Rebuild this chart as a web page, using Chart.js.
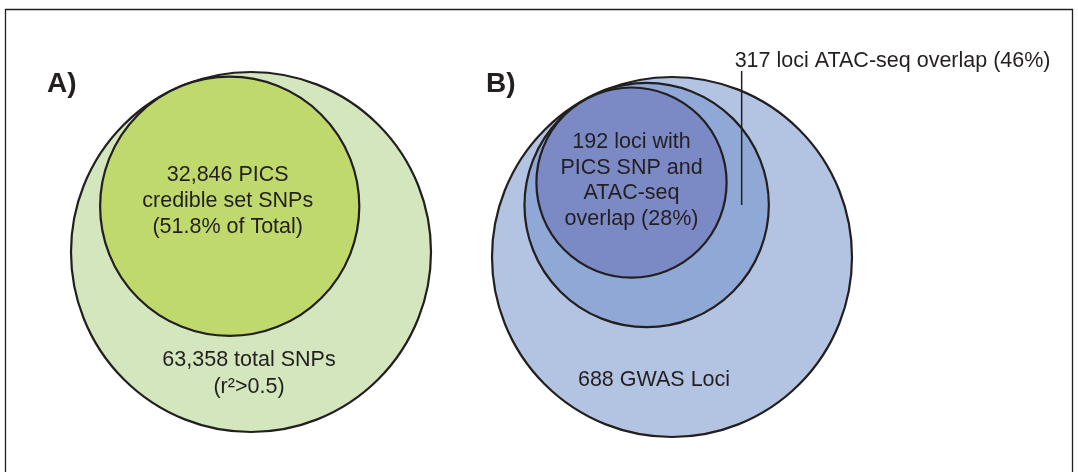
<!DOCTYPE html>
<html>
<head>
<meta charset="utf-8">
<title>GWAS fine-mapping overlap</title>
<script src="https://cdn.jsdelivr.net/npm/chart.js@4/dist/chart.umd.min.js"></script>
<style>
  html, body { margin: 0; padding: 0; background: #ffffff; }
  #wrap { width: 1078px; height: 472px; position: relative; }
  canvas { display: block; }
</style>
</head>
<body>
<div id="wrap"><canvas id="venn" width="1078" height="472"></canvas></div>
<script>
// Panel A: SNP counts, outermost set first
const snpSetNames = ['63,358 total SNPs', '32,846 PICS credible set SNPs'];
const snpCounts = [63358, 32846];
const snpShareOfTotal = [null, '51.8%'];

// Panel B: GWAS loci counts, outermost set first
const lociSetNames = ['688 GWAS Loci', '317 loci ATAC-seq overlap', '192 loci with PICS SNP and ATAC-seq overlap'];
const lociCounts = [688, 317, 192];
const lociShareOfTotal = [null, '46%', '28%'];

const panelTitles = ['A)', 'B)'];

// ---- layout (scale units: 1 unit = 1 px, y grows downward) ----
const OUTER_RADIUS = 180;
const INK = '#231f20';
const FONT = '"Liberation Sans", Arial, Helvetica, sans-serif';

// Each nested circle is internally tangent to its parent at the given angle (deg, counter-clockwise from +x)
function nestCircles(counts, centre, angles) {
  const out = [];
  counts.forEach((c, i) => {
    const size = OUTER_RADIUS * Math.sqrt(c / counts[0]);   // area proportional to count
    if (i === 0) {
      out.push({ x: centre[0], y: centre[1], size });
    } else {
      const parent = out[i - 1];
      const d = parent.size - size;
      const a = angles[i - 1] * Math.PI / 180;
      out.push({ x: parent.x + d * Math.cos(a), y: parent.y - d * Math.sin(a), size });
    }
  });
  return out;
}

const circlesA = nestCircles(snpCounts, [251, 252], [115]);
const circlesB = nestCircles(lociCounts, [672, 257], [116, 124]);

// radius in px, taken from the x scale so the circle follows the axis units
function radiusFromScale(ctx) {
  const s = ctx.chart.scales.x;
  const p = ctx.raw;
  if (!p || !s) return 0;
  const r = s.getPixelForValue(p.x + p.size) - s.getPixelForValue(p.x);
  return isFinite(r) ? r : 0;
}

// text, frame and leader line drawn on top of the circles
const annotations = {
  id: 'vennAnnotations',
  afterDatasetsDraw(chart) {
    const { ctx, scales: { x, y } } = chart;
    const px = v => x.getPixelForValue(v);
    const py = v => y.getPixelForValue(v);
    ctx.save();

    // panel frame
    ctx.strokeStyle = INK;
    ctx.lineWidth = 1.3;
    ctx.beginPath();
    ctx.moveTo(px(5.5), py(480));
    ctx.lineTo(px(5.5), py(9.5));
    ctx.lineTo(px(1072.5), py(9.5));
    ctx.lineTo(px(1072.5), py(480));
    ctx.stroke();

    ctx.fillStyle = INK;
    ctx.textAlign = 'left';
    ctx.textBaseline = 'alphabetic';
    ctx.font = 'bold 28px ' + FONT;
    ctx.fillText(panelTitles[0], px(47), py(92));
    ctx.fillText(panelTitles[1], px(486), py(92));

    ctx.font = '21.5px ' + FONT;
    ctx.textAlign = 'center';
    ctx.textBaseline = 'middle';
    const lines = (arr, cx, cy, lh) => {
      const top = cy - (arr.length - 1) * lh / 2;
      arr.forEach((t, i) => ctx.fillText(t, px(cx), py(top + i * lh)));
    };

    // panel A
    const [aOut, aIn] = circlesA;
    lines(['32,846 PICS', 'credible set SNPs', '(' + snpShareOfTotal[1] + ' of Total)'], aIn.x - 2, aIn.y - 5, 26);
    lines(['63,358 total SNPs', '(r\u00B2>0.5)'], aOut.x - 2, aOut.y + 121.5, 27);

    // panel B
    const [bOut, bMid, bIn] = circlesB;
    lines(['192 loci with', 'PICS SNP and', 'ATAC-seq', 'overlap (' + lociShareOfTotal[2] + ')'], bIn.x, bIn.y - 2, 25.7);
    ctx.fillText(lociSetNames[0], px(bOut.x - 18), py(bOut.y + 123));

    // leader from the middle ring to its label
    const lx = bMid.x + 95;
    ctx.lineWidth = 1.5;
    ctx.beginPath();
    ctx.moveTo(px(lx), py(71));
    ctx.lineTo(px(lx), py(205));
    ctx.stroke();
    ctx.textAlign = 'left';
    ctx.fillText(lociSetNames[1] + ' (' + lociShareOfTotal[1] + ')', px(lx - 7), py(61));

    ctx.restore();
  }
};

new Chart(document.getElementById('venn'), {
  type: 'scatter',
  data: {
    datasets: [
      {
        label: 'SNPs',
        data: circlesA,
        showLine: false,
        pointBackgroundColor: ['#d4e6bd', '#bfd96d'],
        pointBorderColor: INK,
        pointBorderWidth: 2.2,
        pointRadius: radiusFromScale,
        pointHoverRadius: radiusFromScale,
        clip: false
      },
      {
        label: 'GWAS loci',
        data: circlesB,
        showLine: false,
        pointBackgroundColor: ['#b3c4e3', '#8fa8d6', '#7b89c4'],
        pointBorderColor: INK,
        pointBorderWidth: 2.2,
        pointRadius: radiusFromScale,
        pointHoverRadius: radiusFromScale,
        clip: false
      }
    ]
  },
  options: {
    responsive: false,
    devicePixelRatio: 1,
    animation: false,
    events: [],
    layout: { padding: 0 },
    scales: {
      x: { type: 'linear', min: 0, max: 1078, display: false },
      y: { type: 'linear', min: 0, max: 472, reverse: true, display: false }
    },
    plugins: {
      legend: { display: false },
      tooltip: { enabled: false }
    }
  },
  plugins: [annotations]
});
</script>
</body>
</html>
